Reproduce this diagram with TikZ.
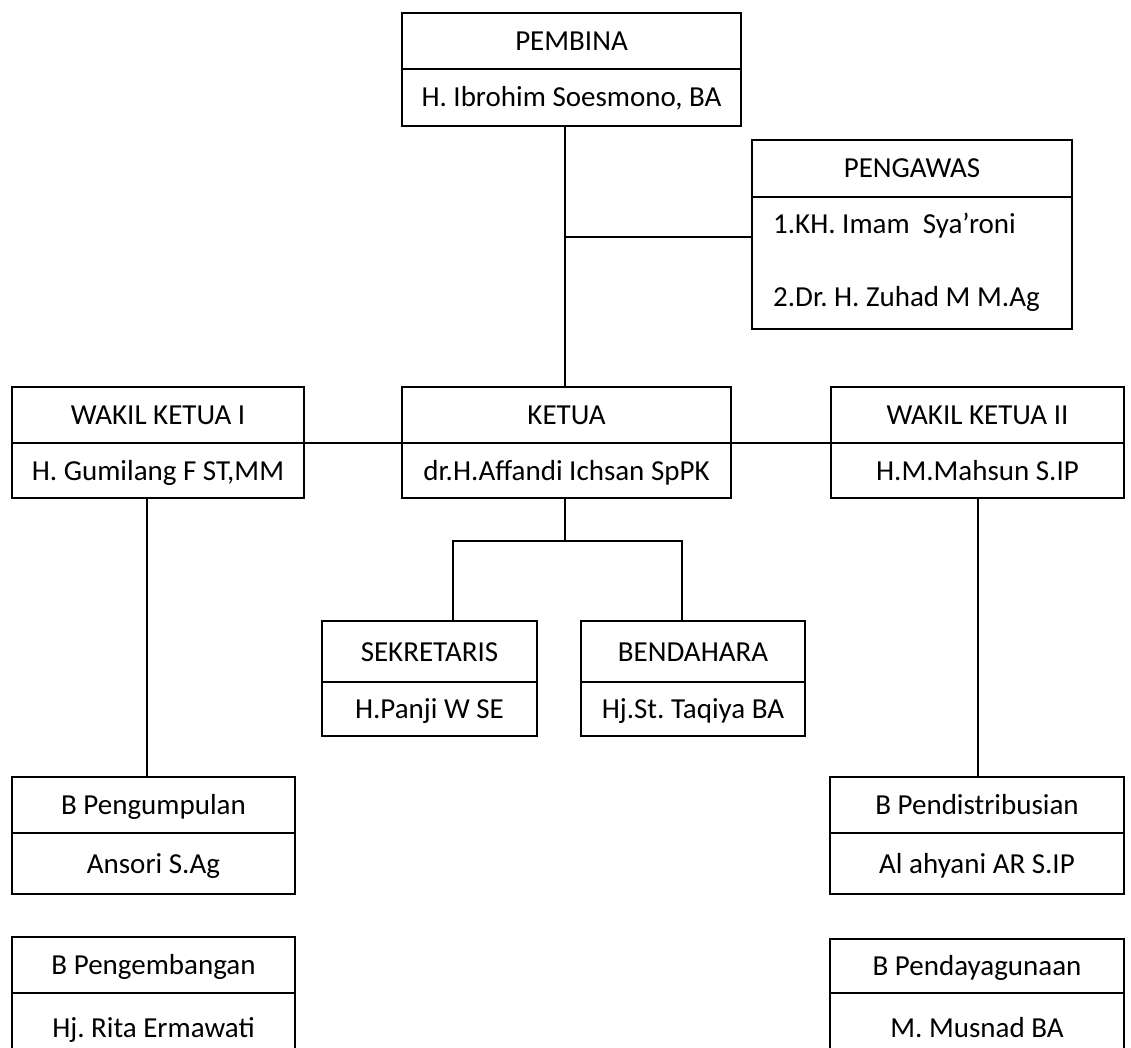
\documentclass[tikz,border=0pt]{standalone}
\usepackage{fontspec}
\setmainfont{Carlito}
\frenchspacing
\usetikzlibrary{fit}
\tikzset{
  boxline/.style={draw=black, line width=1.6pt},
  conn/.style={draw=black, line width=1.1pt},
  lbl/.style={anchor=base, inner sep=0pt, font=\fontsize{29}{33}\selectfont},
}
\newcommand\orgbox[8]{%
  \node[boxline, inner sep=0pt, fit={(#2,#3) (#4,#6)}] (#1) {};
  \draw[boxline] (#2,#5) -- (#4,#5);
  \node[lbl] (#1-title) at ({(#2+#4)/2},{(#3+#5)/2+9.5}) {#7};
  \node[lbl] (#1-name) at ({(#2+#4)/2},{(#5+#6)/2+9.5}) {#8};
}
\begin{document}
\begin{tikzpicture}[x=1pt,y=-1pt]
\clip (0,0) rectangle (1131,1048);
\fill[white] (0,0) rectangle (1131,1048);

\orgbox{pembina}{402}{13}{741}{69}{126}{PEMBINA}{H. Ibrohim Soesmono, BA}

% PENGAWAS
\node[boxline, inner sep=0pt, fit={(752,140) (1072,329)}] (pengawas) {};
\draw[boxline] (752,197) -- (1072,197);
\node[lbl] (pengawas-title) at (912,178) {PENGAWAS};
\node[lbl, anchor=base west] (pengawas-1) at (773,234) {1.KH. Imam\ \ Sya’roni};
\node[lbl, anchor=base west] (pengawas-2) at (773,306) {2.Dr. H. Zuhad M M.Ag};

\orgbox{wk1}{12}{387}{304}{443}{498}{WAKIL KETUA I}{H. Gumilang F ST,MM}
\orgbox{ketua}{402}{387}{731}{443}{498}{KETUA}{dr.H.Affandi Ichsan SpPK}
\orgbox{wk2}{831}{387}{1124}{443}{498}{WAKIL KETUA II}{H.M.Mahsun S.IP}
\orgbox{sek}{322}{621}{537}{682}{736}{SEKRETARIS}{H.Panji W SE}
\orgbox{bend}{581}{621}{805}{682}{736}{BENDAHARA}{Hj.St. Taqiya BA}
\orgbox{bpengum}{12}{777}{295}{833}{894}{B Pengumpulan}{Ansori S.Ag}
\orgbox{bpengem}{12}{937}{295}{993}{1062}{B Pengembangan}{Hj. Rita Ermawati}
\orgbox{bdist}{830}{777}{1124}{833}{894}{B Pendistribusian}{Al ahyani AR S.IP}
\orgbox{bdaya}{830}{939}{1124}{993}{1062}{B Pendayagunaan}{M. Musnad BA}

% connectors
\coordinate (mx) at (565,0);
\draw[conn] (pembina.south -| mx) -- (ketua.north -| mx);
\coordinate (j1) at (565,237);
\draw[conn] (j1) -- (pengawas.west |- j1);
\coordinate (dy) at (0,443);
\draw[conn] (wk1.east |- dy) -- (ketua.west |- dy);
\draw[conn] (ketua.east |- dy) -- (wk2.west |- dy);
\coordinate (lx) at (147,0);
\draw[conn] (wk1.south -| lx) -- (bpengum.north -| lx);
\coordinate (rx) at (978,0);
\draw[conn] (wk2.south -| rx) -- (bdist.north -| rx);
\coordinate (fork) at (565,541);
\coordinate (sx) at (453,541);
\coordinate (bx) at (682,541);
\draw[conn] (ketua.south -| fork) -- (fork);
\draw[conn] (sek.north -| sx) -- (sx) -- (bx) -- (bend.north -| bx);
\end{tikzpicture}
\end{document}
